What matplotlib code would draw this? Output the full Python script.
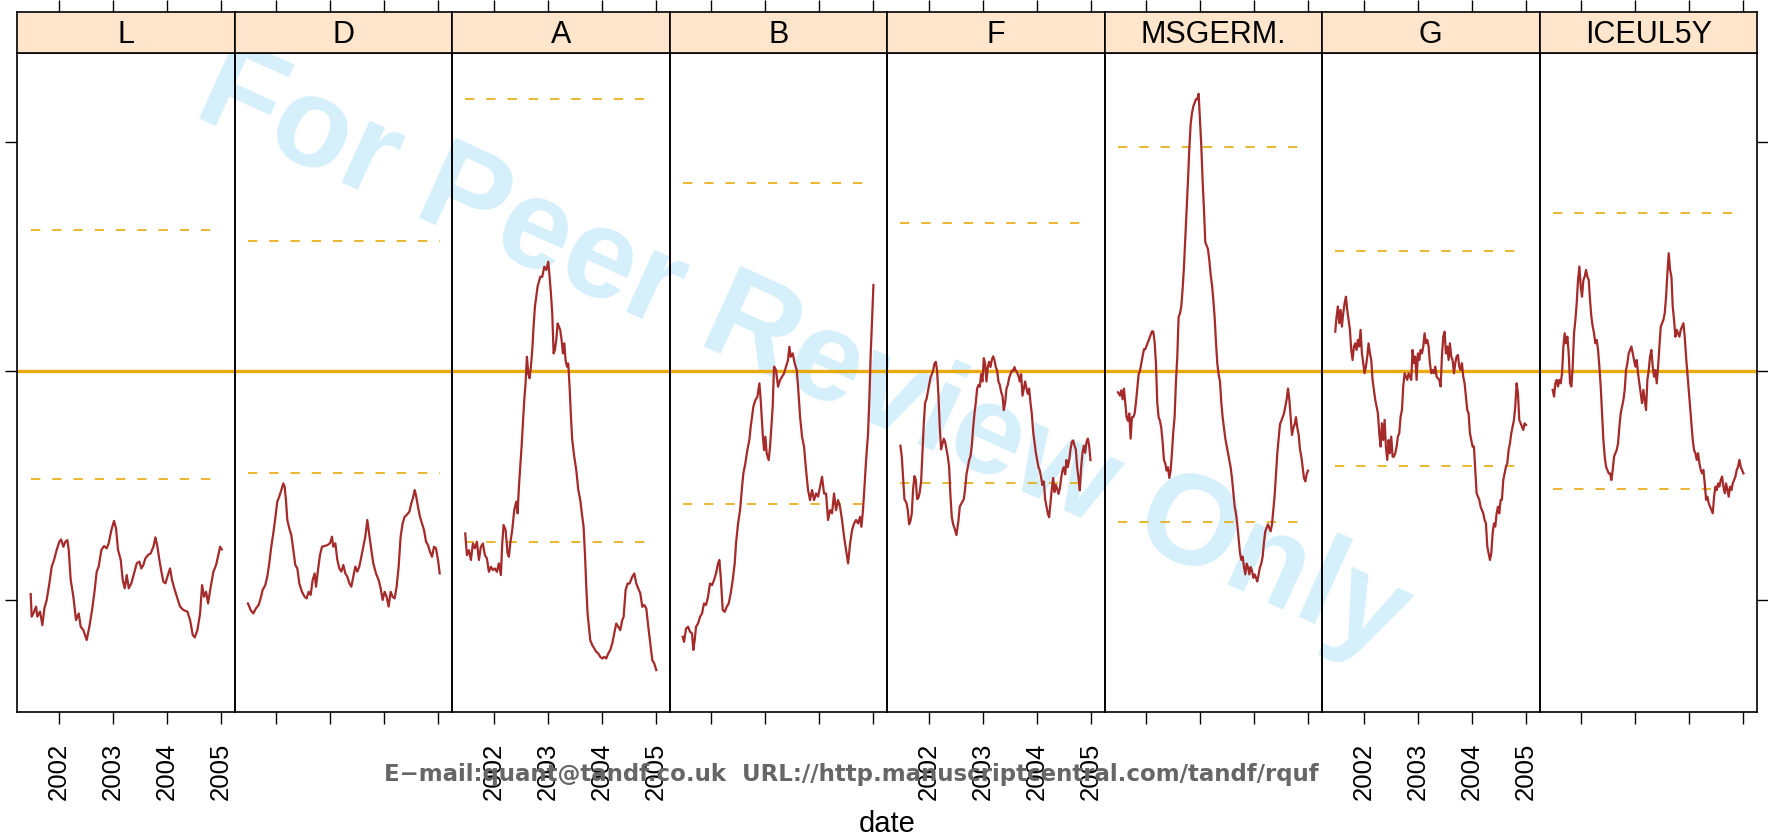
import matplotlib
matplotlib.use("Agg")
import matplotlib.pyplot as plt

plt.rcParams['font.family'] = ['Liberation Sans', 'DejaVu Sans']
plt.rcParams['lines.scale_dashes'] = False

# ---------------- data ----------------
panel_names = ["L", "D", "A", "B", "F", "MSGERM.", "G", "ICEUL5Y"]
year_ticks = [2002, 2003, 2004, 2005]
year_labels = ["2002", "2003", "2004", "2005"]
y_ticks = [-1, 0, 1]
reference_level = 0.0
upper_bands = [0.617, 0.568, 1.189, 0.824, 0.647, 0.978, 0.525, 0.691]
lower_bands = [-0.474, -0.445, -0.747, -0.584, -0.491, -0.660, -0.417, -0.516]

L_dates = [2001.479, 2001.497, 2001.528, 2001.578, 2001.602, 2001.652, 2001.695, 2001.732, 2001.775, 2001.825,
           2001.868, 2001.911, 2001.960, 2002.010, 2002.041, 2002.084, 2002.121, 2002.158, 2002.183, 2002.220,
           2002.269, 2002.318, 2002.368, 2002.405, 2002.454, 2002.516, 2002.565, 2002.615, 2002.664, 2002.701,
           2002.738, 2002.788, 2002.837, 2002.886, 2002.923, 2002.973, 2003.022, 2003.059, 2003.096, 2003.146,
           2003.183, 2003.220, 2003.257, 2003.294, 2003.343, 2003.392, 2003.442, 2003.491, 2003.528, 2003.565,
           2003.602, 2003.652, 2003.701, 2003.751, 2003.788, 2003.825, 2003.862, 2003.899, 2003.936, 2003.973,
           2004.010, 2004.059, 2004.096, 2004.146, 2004.195, 2004.244, 2004.306, 2004.380, 2004.430, 2004.479,
           2004.516, 2004.565, 2004.615, 2004.652, 2004.689, 2004.726, 2004.763, 2004.812, 2004.862, 2004.911,
           2004.960, 2004.985, 2005.016]
L_vals = [-0.976, -1.075, -1.061, -1.031, -1.075, -1.053, -1.112, -1.039, -1.002, -0.929,
          -0.856, -0.827, -0.783, -0.747, -0.737, -0.769, -0.747, -0.740, -0.783, -0.915,
          -0.988, -1.090, -1.061, -1.119, -1.134, -1.177, -1.119, -1.046, -0.958, -0.878,
          -0.856, -0.783, -0.766, -0.776, -0.754, -0.696, -0.656, -0.689, -0.783, -0.827,
          -0.915, -0.951, -0.893, -0.951, -0.929, -0.886, -0.842, -0.834, -0.864, -0.849,
          -0.820, -0.805, -0.798, -0.769, -0.728, -0.769, -0.827, -0.878, -0.922, -0.929,
          -0.900, -0.864, -0.915, -0.958, -0.995, -1.031, -1.046, -1.053, -1.090, -1.155,
          -1.166, -1.134, -1.061, -0.937, -0.988, -0.966, -1.017, -0.944, -0.878, -0.849,
          -0.798, -0.769, -0.781]

D_dates = [2001.475, 2001.525, 2001.574, 2001.623, 2001.673, 2001.710, 2001.747, 2001.796, 2001.833, 2001.870,
           2001.907, 2001.944, 2001.981, 2002.018, 2002.055, 2002.093, 2002.130, 2002.154, 2002.179, 2002.204,
           2002.241, 2002.278, 2002.315, 2002.352, 2002.389, 2002.426, 2002.475, 2002.525, 2002.562, 2002.599,
           2002.636, 2002.673, 2002.710, 2002.735, 2002.772, 2002.809, 2002.846, 2002.895, 2002.944, 2002.994,
           2003.031, 2003.055, 2003.093, 2003.130, 2003.167, 2003.204, 2003.241, 2003.278, 2003.315, 2003.352,
           2003.389, 2003.426, 2003.463, 2003.500, 2003.537, 2003.574, 2003.611, 2003.648, 2003.685, 2003.722,
           2003.759, 2003.796, 2003.846, 2003.895, 2003.932, 2003.969, 2004.006, 2004.043, 2004.080, 2004.117,
           2004.154, 2004.191, 2004.228, 2004.265, 2004.302, 2004.339, 2004.376, 2004.414, 2004.463, 2004.500,
           2004.537, 2004.562, 2004.586, 2004.623, 2004.660, 2004.697, 2004.735, 2004.772, 2004.809, 2004.846,
           2004.883, 2004.920, 2004.957, 2004.994, 2005.025]
D_vals = [-1.017, -1.046, -1.061, -1.039, -1.024, -0.995, -0.958, -0.937, -0.900, -0.842,
          -0.769, -0.711, -0.645, -0.572, -0.550, -0.521, -0.492, -0.506, -0.565, -0.652,
          -0.689, -0.718, -0.783, -0.849, -0.864, -0.929, -0.966, -0.988, -0.995, -0.966,
          -0.980, -0.915, -0.886, -0.944, -0.871, -0.805, -0.769, -0.766, -0.762, -0.754,
          -0.725, -0.769, -0.754, -0.827, -0.864, -0.878, -0.849, -0.886, -0.900, -0.929,
          -0.944, -0.900, -0.856, -0.878, -0.856, -0.813, -0.769, -0.725, -0.652, -0.718,
          -0.783, -0.842, -0.886, -0.915, -0.951, -1.002, -0.966, -0.988, -1.031, -0.966,
          -0.988, -0.995, -0.944, -0.856, -0.725, -0.667, -0.638, -0.630, -0.616, -0.579,
          -0.550, -0.521, -0.543, -0.594, -0.638, -0.667, -0.696, -0.747, -0.762, -0.791,
          -0.813, -0.769, -0.776, -0.827, -0.886]

A_dates = [2001.472, 2001.503, 2001.540, 2001.577, 2001.614, 2001.651, 2001.688, 2001.725, 2001.762, 2001.799,
           2001.836, 2001.873, 2001.910, 2001.947, 2001.984, 2002.021, 2002.058, 2002.095, 2002.132, 2002.157,
           2002.182, 2002.219, 2002.256, 2002.281, 2002.305, 2002.342, 2002.379, 2002.416, 2002.441, 2002.466,
           2002.490, 2002.515, 2002.540, 2002.565, 2002.589, 2002.614, 2002.639, 2002.663, 2002.688, 2002.713,
           2002.737, 2002.762, 2002.787, 2002.811, 2002.836, 2002.861, 2002.898, 2002.935, 2002.972, 2003.009,
           2003.034, 2003.058, 2003.083, 2003.108, 2003.132, 2003.157, 2003.182, 2003.207, 2003.231, 2003.256,
           2003.281, 2003.305, 2003.330, 2003.355, 2003.379, 2003.404, 2003.429, 2003.453, 2003.490, 2003.528,
           2003.565, 2003.602, 2003.639, 2003.663, 2003.688, 2003.713, 2003.737, 2003.762, 2003.787, 2003.824,
           2003.861, 2003.898, 2003.935, 2003.972, 2004.009, 2004.046, 2004.083, 2004.120, 2004.157, 2004.194,
           2004.231, 2004.268, 2004.305, 2004.342, 2004.379, 2004.404, 2004.441, 2004.478, 2004.515, 2004.565,
           2004.602, 2004.639, 2004.676, 2004.713, 2004.750, 2004.787, 2004.824, 2004.861, 2004.898, 2004.935,
           2004.972, 2005.009]
A_vals = [-0.711, -0.806, -0.784, -0.827, -0.755, -0.776, -0.747, -0.827, -0.769, -0.755,
          -0.806, -0.820, -0.879, -0.857, -0.871, -0.864, -0.879, -0.842, -0.893, -0.755,
          -0.674, -0.696, -0.798, -0.813, -0.755, -0.696, -0.609, -0.572, -0.623, -0.507,
          -0.419, -0.332, -0.229, -0.127, -0.054, 0.062, -0.011, -0.032, 0.019, 0.092,
          0.194, 0.281, 0.325, 0.369, 0.391, 0.412, 0.412, 0.456, 0.442, 0.478,
          0.412, 0.340, 0.252, 0.077, 0.092, 0.135, 0.208, 0.194, 0.179, 0.135,
          0.077, 0.121, 0.048, 0.019, 0.033, -0.069, -0.200, -0.302, -0.375, -0.434,
          -0.521, -0.565, -0.638, -0.682, -0.798, -0.944, -1.061, -1.119, -1.178, -1.200,
          -1.214, -1.229, -1.236, -1.251, -1.258, -1.251, -1.258, -1.236, -1.221, -1.192,
          -1.148, -1.105, -1.119, -1.134, -1.090, -1.076, -0.959, -0.930, -0.930, -0.900,
          -0.886, -0.930, -0.952, -0.973, -1.032, -1.024, -1.039, -1.119, -1.192, -1.265,
          -1.280, -1.309]

B_dates = [2001.472, 2001.497, 2001.534, 2001.571, 2001.608, 2001.645, 2001.669, 2001.694, 2001.719, 2001.756,
           2001.793, 2001.830, 2001.867, 2001.904, 2001.941, 2001.978, 2002.015, 2002.052, 2002.089, 2002.126,
           2002.151, 2002.176, 2002.213, 2002.250, 2002.287, 2002.324, 2002.361, 2002.398, 2002.435, 2002.459,
           2002.497, 2002.534, 2002.571, 2002.595, 2002.632, 2002.669, 2002.706, 2002.731, 2002.756, 2002.780,
           2002.818, 2002.855, 2002.892, 2002.916, 2002.953, 2002.978, 2003.003, 2003.027, 2003.064, 2003.089,
           2003.114, 2003.138, 2003.163, 2003.200, 2003.237, 2003.274, 2003.311, 2003.348, 2003.385, 2003.422,
           2003.447, 2003.472, 2003.509, 2003.546, 2003.583, 2003.608, 2003.645, 2003.682, 2003.719, 2003.756,
           2003.793, 2003.830, 2003.867, 2003.904, 2003.941, 2003.978, 2004.015, 2004.052, 2004.089, 2004.126,
           2004.163, 2004.200, 2004.237, 2004.274, 2004.311, 2004.348, 2004.385, 2004.422, 2004.459, 2004.497,
           2004.534, 2004.571, 2004.608, 2004.645, 2004.682, 2004.719, 2004.756, 2004.780, 2004.805, 2004.830,
           2004.867, 2004.904, 2004.929, 2004.953, 2004.978, 2005.003]
B_vals = [-1.163, -1.185, -1.127, -1.119, -1.141, -1.148, -1.221, -1.178, -1.119, -1.105,
          -1.076, -1.061, -1.017, -1.024, -0.988, -0.930, -0.937, -0.915, -0.886, -0.842,
          -0.827, -0.900, -1.046, -1.054, -1.032, -1.017, -0.973, -0.915, -0.842, -0.755,
          -0.667, -0.609, -0.507, -0.448, -0.404, -0.346, -0.302, -0.244, -0.200, -0.156,
          -0.127, -0.113, -0.054, -0.127, -0.273, -0.346, -0.288, -0.361, -0.390, -0.332,
          -0.244, -0.156, 0.019, 0.004, -0.069, -0.040, -0.025, -0.011, 0.019, 0.048,
          0.106, 0.062, 0.077, 0.033, 0.004, -0.069, -0.200, -0.288, -0.332, -0.434,
          -0.521, -0.565, -0.521, -0.565, -0.536, -0.550, -0.507, -0.463, -0.536, -0.536,
          -0.652, -0.609, -0.623, -0.536, -0.609, -0.565, -0.594, -0.652, -0.725, -0.784,
          -0.842, -0.755, -0.696, -0.667, -0.652, -0.667, -0.638, -0.682, -0.623, -0.536,
          -0.390, -0.273, -0.113, 0.077, 0.223, 0.376]

F_dates = [2001.477, 2001.502, 2001.527, 2001.551, 2001.588, 2001.613, 2001.638, 2001.663, 2001.687, 2001.712,
           2001.737, 2001.761, 2001.786, 2001.811, 2001.835, 2001.860, 2001.885, 2001.909, 2001.934, 2001.959,
           2001.984, 2002.008, 2002.033, 2002.058, 2002.082, 2002.107, 2002.132, 2002.156, 2002.181, 2002.206,
           2002.230, 2002.255, 2002.280, 2002.305, 2002.329, 2002.354, 2002.379, 2002.403, 2002.428, 2002.453,
           2002.477, 2002.514, 2002.551, 2002.576, 2002.613, 2002.650, 2002.675, 2002.700, 2002.724, 2002.749,
           2002.774, 2002.798, 2002.823, 2002.848, 2002.872, 2002.897, 2002.922, 2002.947, 2002.971, 2002.996,
           2003.021, 2003.045, 2003.070, 2003.095, 2003.119, 2003.144, 2003.169, 2003.193, 2003.218, 2003.243,
           2003.267, 2003.292, 2003.317, 2003.342, 2003.366, 2003.391, 2003.416, 2003.440, 2003.465, 2003.490,
           2003.514, 2003.539, 2003.564, 2003.588, 2003.613, 2003.638, 2003.663, 2003.687, 2003.712, 2003.737,
           2003.761, 2003.786, 2003.811, 2003.835, 2003.860, 2003.885, 2003.909, 2003.934, 2003.959, 2003.984,
           2004.008, 2004.033, 2004.058, 2004.082, 2004.107, 2004.132, 2004.156, 2004.181, 2004.206, 2004.230,
           2004.255, 2004.280, 2004.305, 2004.329, 2004.354, 2004.379, 2004.403, 2004.428, 2004.453, 2004.477,
           2004.502, 2004.527, 2004.551, 2004.576, 2004.601, 2004.626, 2004.650, 2004.675, 2004.700, 2004.724,
           2004.749, 2004.774, 2004.798, 2004.823, 2004.848, 2004.872, 2004.897, 2004.922, 2004.947, 2004.971,
           2004.996]
F_vals = [-0.327, -0.374, -0.468, -0.561, -0.577, -0.608, -0.671, -0.655, -0.624, -0.515,
          -0.460, -0.476, -0.561, -0.554, -0.530, -0.483, -0.358, -0.233, -0.139, -0.124,
          -0.093, -0.061, -0.030, -0.014, 0.001, 0.032, 0.040, 0.001, -0.108, -0.249,
          -0.343, -0.319, -0.296, -0.311, -0.343, -0.374, -0.421, -0.546, -0.640, -0.671,
          -0.687, -0.718, -0.655, -0.593, -0.577, -0.561, -0.515, -0.452, -0.421, -0.390,
          -0.374, -0.327, -0.249, -0.186, -0.139, -0.077, -0.061, -0.069, -0.014, -0.046,
          0.056, 0.032, -0.046, 0.017, 0.040, 0.017, 0.048, 0.064, 0.048, 0.017,
          0.001, -0.046, -0.061, -0.093, -0.108, -0.171, -0.139, -0.077, -0.061, -0.030,
          -0.014, 0.001, 0.001, 0.017, 0.001, -0.007, -0.022, -0.046, -0.014, -0.108,
          -0.077, -0.046, -0.077, -0.100, -0.077, -0.139, -0.186, -0.265, -0.311, -0.358,
          -0.390, -0.421, -0.436, -0.468, -0.499, -0.483, -0.561, -0.593, -0.624, -0.640,
          -0.577, -0.515, -0.468, -0.530, -0.499, -0.515, -0.538, -0.515, -0.468, -0.436,
          -0.421, -0.452, -0.390, -0.421, -0.390, -0.343, -0.311, -0.304, -0.327, -0.343,
          -0.421, -0.468, -0.522, -0.421, -0.358, -0.327, -0.358, -0.311, -0.296, -0.327,
          -0.390]

M_dates = [2001.478, 2001.515, 2001.540, 2001.564, 2001.589, 2001.614, 2001.638, 2001.663, 2001.688, 2001.713,
           2001.737, 2001.762, 2001.787, 2001.811, 2001.836, 2001.861, 2001.885, 2001.910, 2001.935, 2001.959,
           2001.984, 2002.009, 2002.034, 2002.058, 2002.083, 2002.108, 2002.132, 2002.157, 2002.182, 2002.206,
           2002.231, 2002.256, 2002.280, 2002.305, 2002.330, 2002.355, 2002.379, 2002.404, 2002.429, 2002.453,
           2002.478, 2002.503, 2002.527, 2002.552, 2002.577, 2002.601, 2002.626, 2002.651, 2002.676, 2002.700,
           2002.725, 2002.750, 2002.774, 2002.799, 2002.824, 2002.848, 2002.873, 2002.898, 2002.922, 2002.947,
           2002.972, 2002.997, 2003.021, 2003.046, 2003.071, 2003.095, 2003.120, 2003.145, 2003.169, 2003.194,
           2003.219, 2003.243, 2003.268, 2003.293, 2003.318, 2003.342, 2003.367, 2003.392, 2003.416, 2003.441,
           2003.466, 2003.490, 2003.515, 2003.540, 2003.564, 2003.589, 2003.614, 2003.639, 2003.663, 2003.688,
           2003.713, 2003.737, 2003.762, 2003.787, 2003.811, 2003.836, 2003.861, 2003.885, 2003.910, 2003.935,
           2003.960, 2003.984, 2004.009, 2004.034, 2004.058, 2004.083, 2004.108, 2004.132, 2004.157, 2004.182,
           2004.206, 2004.231, 2004.256, 2004.281, 2004.305, 2004.330, 2004.355, 2004.379, 2004.404, 2004.429,
           2004.453, 2004.478, 2004.503, 2004.527, 2004.552, 2004.577, 2004.602, 2004.626, 2004.651, 2004.676,
           2004.700, 2004.725, 2004.750, 2004.774, 2004.799, 2004.824, 2004.848, 2004.873, 2004.898, 2004.922,
           2004.947, 2004.972, 2004.996]
M_vals = [-0.093, -0.108, -0.085, -0.124, -0.077, -0.139, -0.202, -0.218, -0.186, -0.296,
          -0.202, -0.202, -0.186, -0.139, -0.077, -0.014, 0.001, 0.032, 0.064, 0.095,
          0.095, 0.111, 0.126, 0.142, 0.157, 0.173, 0.173, 0.126, 0.032, -0.139,
          -0.202, -0.218, -0.249, -0.311, -0.390, -0.405, -0.436, -0.421, -0.468, -0.436,
          -0.358, -0.265, -0.202, -0.046, 0.064, 0.236, 0.251, 0.283, 0.361, 0.454,
          0.579, 0.705, 0.830, 0.970, 1.080, 1.127, 1.158, 1.173, 1.189, 1.189,
          1.213, 1.095, 0.986, 0.830, 0.705, 0.564, 0.548, 0.533, 0.486, 0.423,
          0.376, 0.314, 0.236, 0.126, 0.032, -0.014, -0.046, -0.139, -0.202, -0.249,
          -0.296, -0.327, -0.358, -0.390, -0.421, -0.468, -0.530, -0.593, -0.624, -0.671,
          -0.733, -0.796, -0.827, -0.812, -0.858, -0.890, -0.843, -0.858, -0.890, -0.858,
          -0.874, -0.905, -0.890, -0.905, -0.921, -0.890, -0.858, -0.843, -0.812, -0.749,
          -0.702, -0.687, -0.671, -0.687, -0.702, -0.671, -0.608, -0.546, -0.452, -0.358,
          -0.296, -0.233, -0.218, -0.202, -0.186, -0.155, -0.124, -0.077, -0.124, -0.202,
          -0.280, -0.249, -0.233, -0.202, -0.249, -0.280, -0.343, -0.374, -0.421, -0.468,
          -0.483, -0.452, -0.436]

GI_dates = [2001.475, 2001.500, 2001.524, 2001.549, 2001.574, 2001.598, 2001.623, 2001.648, 2001.673, 2001.697,
            2001.722, 2001.747, 2001.771, 2001.796, 2001.821, 2001.845, 2001.870, 2001.895, 2001.919, 2001.944,
            2001.969, 2001.994, 2002.018, 2002.043, 2002.068, 2002.092, 2002.117, 2002.142, 2002.166, 2002.191,
            2002.216, 2002.240, 2002.265, 2002.290, 2002.315, 2002.339, 2002.364, 2002.389, 2002.413, 2002.438,
            2002.463, 2002.487, 2002.512, 2002.537, 2002.561, 2002.586, 2002.611, 2002.635, 2002.660, 2002.685,
            2002.710, 2002.734, 2002.759, 2002.784, 2002.808, 2002.833, 2002.858, 2002.882, 2002.907, 2002.932,
            2002.956, 2002.981, 2003.006, 2003.031, 2003.055, 2003.080, 2003.105, 2003.129, 2003.154, 2003.179,
            2003.203, 2003.228, 2003.253, 2003.277, 2003.302, 2003.327, 2003.352, 2003.376, 2003.401, 2003.426,
            2003.450, 2003.475, 2003.500, 2003.524, 2003.549, 2003.574, 2003.598, 2003.623, 2003.648, 2003.673,
            2003.697, 2003.722, 2003.747, 2003.771, 2003.796, 2003.821, 2003.845, 2003.870, 2003.895, 2003.919,
            2003.944, 2003.969, 2003.994, 2004.018, 2004.043, 2004.068, 2004.092, 2004.117, 2004.142, 2004.166,
            2004.191, 2004.216, 2004.240, 2004.265, 2004.290, 2004.315, 2004.339, 2004.364, 2004.389, 2004.413,
            2004.438, 2004.463, 2004.487, 2004.512, 2004.537, 2004.561, 2004.586, 2004.611, 2004.635, 2004.660,
            2004.685, 2004.710, 2004.734, 2004.759, 2004.784, 2004.808, 2004.833, 2004.858, 2004.882, 2004.907,
            2004.932, 2004.956, 2004.981, 2005.006]
G_vals = [0.172, 0.238, 0.282, 0.209, 0.267, 0.194, 0.252, 0.296, 0.325, 0.267,
          0.223, 0.180, 0.092, 0.048, 0.107, 0.121, 0.092, 0.136, 0.107, 0.180,
          0.077, 0.034, -0.010, 0.019, 0.063, 0.121, 0.077, 0.048, -0.039, -0.083,
          -0.127, -0.156, -0.185, -0.273, -0.331, -0.229, -0.302, -0.214, -0.331, -0.389,
          -0.302, -0.360, -0.287, -0.375, -0.375, -0.360, -0.331, -0.287, -0.273, -0.200,
          -0.171, -0.068, -0.010, -0.025, -0.039, -0.010, -0.025, -0.039, 0.092, 0.034,
          0.063, -0.039, 0.077, 0.048, 0.092, 0.077, 0.107, 0.165, 0.121, 0.136,
          0.107, 0.034, -0.010, 0.004, -0.010, 0.019, -0.025, -0.032, -0.039, -0.068,
          0.063, 0.150, 0.172, 0.077, 0.107, 0.048, 0.121, 0.063, 0.048, -0.010,
          0.034, 0.063, 0.070, 0.019, 0.004, 0.034, -0.025, -0.054, -0.112, -0.171,
          -0.185, -0.273, -0.302, -0.331, -0.331, -0.433, -0.535, -0.550, -0.564, -0.594,
          -0.608, -0.623, -0.652, -0.667, -0.769, -0.798, -0.827, -0.798, -0.710, -0.667,
          -0.681, -0.623, -0.594, -0.623, -0.564, -0.564, -0.477, -0.448, -0.419, -0.404,
          -0.346, -0.316, -0.273, -0.244, -0.214, -0.156, -0.054, -0.098, -0.214, -0.229,
          -0.244, -0.258, -0.229, -0.236]
I_vals = [-0.083, -0.112, -0.054, -0.039, -0.068, -0.039, -0.054, -0.010, 0.107, 0.165,
          0.121, 0.150, 0.077, -0.054, -0.068, 0.019, 0.165, 0.223, 0.296, 0.398,
          0.457, 0.369, 0.325, 0.398, 0.413, 0.442, 0.413, 0.398, 0.311, 0.238,
          0.194, 0.165, 0.121, 0.136, 0.092, 0.019, -0.068, -0.185, -0.302, -0.375,
          -0.419, -0.433, -0.448, -0.448, -0.477, -0.433, -0.375, -0.360, -0.346, -0.316,
          -0.244, -0.185, -0.156, -0.127, -0.083, 0.004, 0.034, 0.077, 0.092, 0.107,
          0.077, 0.048, 0.019, 0.048, -0.010, -0.054, -0.098, -0.141, -0.083, -0.127,
          -0.171, -0.039, 0.004, 0.063, 0.092, 0.019, -0.025, 0.004, -0.054, 0.019,
          0.107, 0.194, 0.209, 0.223, 0.252, 0.325, 0.428, 0.515, 0.442, 0.413,
          0.282, 0.223, 0.150, 0.180, 0.165, 0.150, 0.180, 0.194, 0.209, 0.150,
          0.063, -0.010, -0.083, -0.156, -0.229, -0.302, -0.346, -0.360, -0.389, -0.360,
          -0.404, -0.433, -0.448, -0.433, -0.492, -0.564, -0.550, -0.579, -0.594, -0.608,
          -0.623, -0.550, -0.506, -0.521, -0.492, -0.506, -0.477, -0.462, -0.506, -0.535,
          -0.492, -0.521, -0.550, -0.506, -0.521, -0.492, -0.477, -0.462, -0.433, -0.419,
          -0.389, -0.419, -0.433, -0.448]

series_dates = [L_dates, D_dates, A_dates, B_dates, F_dates, M_dates, GI_dates, GI_dates]
series_vals = [L_vals, D_vals, A_vals, B_vals, F_vals, M_vals, G_vals, I_vals]

# ---------------- style / layout ----------------
W, H = 1768, 836
LEFT, PW = 17.3, 217.46          # panel left edge & width (px)
TOP, BOT, STRIP_TOP = 53.3, 711.5, 11.7
XLIM = (2001.231, 2005.257)
YLIM = (-1.490, 1.390)
RED = '#A52A2A'
GOLD = '#E8AA0E'
STRIP_BG = '#FFE5CC'
TICK_LEN = 8.8

fig = plt.figure(figsize=(W / 100, H / 100), dpi=100)
fig.patch.set_facecolor('white')

for i, name in enumerate(panel_names):
    d = series_dates[i]
    v = series_vals[i]
    x0 = (LEFT + i * PW) / W
    ax = fig.add_axes([x0, 1 - BOT / H, PW / W, (BOT - TOP) / H])
    ax.set_facecolor('none')
    ax.set_xlim(*XLIM)
    ax.set_ylim(*YLIM)
    ax.axhline(reference_level, color=GOLD, lw=2.4, zorder=2)
    for lvl in (upper_bands[i], lower_bands[i]):
        ax.plot([d[0], d[-1]], [lvl, lvl], color=GOLD, lw=1.2,
                dashes=(6.7, 8.6), zorder=2)
    ax.plot(d, v, color=RED, lw=1.6, zorder=3)
    for s in ax.spines.values():
        s.set_linewidth(1.2)
        s.set_color('black')
    ax.set_xticks(year_ticks)
    ax.set_xticklabels(year_labels)
    ax.tick_params(axis='x', direction='out', length=TICK_LEN, width=1.0,
                   bottom=True, top=False, labelbottom=(i % 2 == 0),
                   labelrotation=90, labelsize=18.5, pad=13.5)
    ax.set_yticks(y_ticks)
    ax.tick_params(axis='y', direction='out', length=TICK_LEN, width=1.0,
                   left=(i == 0), right=(i == len(panel_names) - 1),
                   labelleft=False, labelright=False)

    sx = fig.add_axes([x0, 1 - TOP / H, PW / W, (TOP - STRIP_TOP) / H])
    sx.set_facecolor(STRIP_BG)
    sx.set_xlim(*XLIM)
    sx.set_xticks(year_ticks)
    sx.tick_params(axis='x', direction='out', length=TICK_LEN, width=1.0,
                   bottom=False, top=True, labelbottom=False, labeltop=False)
    sx.set_yticks([])
    for s in sx.spines.values():
        s.set_linewidth(1.2)
        s.set_color('black')
    sx.text(0.5, 0.24, name, transform=sx.transAxes, ha='center',
            va='baseline', fontsize=22, color='black')

# axis title
fig.text(887 / W, 1 - 832.5 / H, 'date', ha='center', va='baseline',
         fontsize=21, color='black')

# footer
fig.text(851 / W, 1 - 781 / H,
         'E\u2212mail:quant@tandf.co.uk  URL://http.manuscriptcentral.com/tandf/rquf',
         ha='center', va='baseline', fontsize=16.5, fontweight='bold',
         family='DejaVu Sans', color='#666666')

# watermark
fig.text(190.7 / W, 1 - 114.4 / H, 'For Peer Review Only', rotation=-24.4,
         rotation_mode='anchor', ha='left', va='baseline', fontsize=92,
         fontweight='bold', color='#D5EFFB', zorder=-1)

fig.savefig('out.png', dpi=100, facecolor='white')
